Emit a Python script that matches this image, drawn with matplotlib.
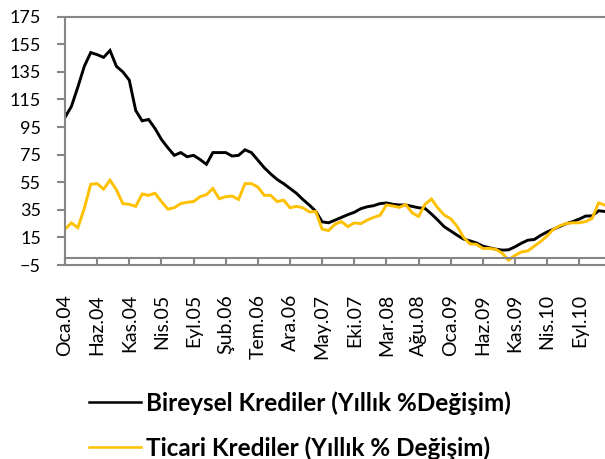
import matplotlib
matplotlib.use("Agg")
import matplotlib.pyplot as plt
from matplotlib.lines import Line2D

# Aylik yillik degisim serileri (Ocak 2004 - Ocak 2011)
bireysel = [102, 110, 124, 139, 149, 147.5, 145.5, 150.5, 139, 135,
            129, 107, 99.5, 100.5, 94, 86, 80, 74.5, 76.5, 73.5,
            74.5, 71.5, 68, 76.5, 76.5, 76.5, 74, 74.5, 78.5, 76.5,
            71, 65.5, 61, 57, 54, 50.5, 47, 42.5, 38.5, 34,
            26.3, 25.6, 27.5, 29.5, 31.5, 33.2, 35.8, 37.2, 38, 39.5,
            40, 39, 38.5, 38.5, 37.5, 36.5, 36, 32, 27.5, 22.7,
            19.7, 16.6, 13.8, 12.5, 11, 8.7, 7.5, 6.5, 5.8, 6,
            8.2, 10.8, 13, 13.5, 16.5, 19, 21, 23, 25, 26.5,
            28.3, 30.5, 30.6, 34.3, 33.8]
ticari = [21, 25.5, 22, 36, 53.5, 54, 50, 56.5, 49.5, 39.5,
          39, 37.5, 46.5, 45.5, 47, 41, 35.5, 36.5, 39.5, 40.5,
          41, 44.5, 46, 50.5, 43, 44.5, 45, 42.5, 54, 54,
          51.5, 45.5, 45.5, 41, 42, 36.5, 37.5, 36.5, 33.5, 33.8,
          21, 20, 24.5, 26.5, 22.8, 25.5, 25, 27.5, 29.5, 31,
          38.5, 37.8, 36.8, 38.8, 32.8, 30.2, 39, 42.8, 36.3, 31.2,
          28.5, 23, 15, 10.3, 10, 7, 7, 6.4, 3.6, -1.5,
          2, 4.5, 5.2, 8.7, 12, 16.2, 21, 23.5, 25.1, 25.6,
          25.6, 26.5, 28.8, 40, 38.4]
ay_etiketleri = ["Oca.04", "Haz.04", "Kas.04", "Nis.05", "Eyl.05", "Şub.06",
                 "Tem.06", "Ara.06", "May.07", "Eki.07", "Mar.08", "Ağu.08",
                 "Oca.09", "Haz.09", "Kas.09", "Nis.10", "Eyl.10"]
etiket_adimi = 5
y_ticks = list(range(-5, 176, 20))

gri = "#868686"
sari = "#FFC000"

plt.rcParams['font.family'] = ['Lato', 'DejaVu Sans']

fig = plt.figure(figsize=(6.05, 4.59), dpi=100)
ax = fig.add_axes([65 / 605, 1 - 265 / 459, 1 - 65 / 605, (265 - 16.7) / 459])

x = list(range(len(bireysel)))
ax.plot(x, bireysel, color="black", lw=2.1, solid_joinstyle="miter")
ax.plot(x, ticari, color=sari, lw=2.1, solid_joinstyle="miter")

ax.set_xlim(0, 84.0)
ax.set_ylim(-5, 175)

# yatay eksen 0 noktasinda, cerceve -5'te
ax.spines["bottom"].set_position(("data", 0))
for s in ("bottom", "left", "top"):
    ax.spines[s].set_color(gri)
    ax.spines[s].set_linewidth(1.5)
ax.spines["right"].set_visible(False)
ax.axhline(-5, color=gri, lw=1.5, clip_on=False)

ax.set_xticks([i * etiket_adimi for i in range(len(ay_etiketleri))])
ax.set_xticklabels(ay_etiketleri, rotation=90)
ax.tick_params(axis="x", direction="out", length=5.3, width=1.5, color=gri,
               pad=20.5, labelsize=14)
ax.set_yticks(y_ticks)
ax.tick_params(axis="y", direction="out", length=5.8, width=1.5, color=gri,
               pad=11.5, labelsize=13)

handles = [Line2D([], [], color="black", lw=1.8),
           Line2D([], [], color=sari, lw=1.8)]
fig.legend(handles, ["Bireysel Krediler (Yıllık %Değişim)",
                     "Ticari Krediler (Yıllık % Değişim)"],
           loc="upper left", bbox_to_anchor=(89 / 605, 1 - 391 / 459),
           frameon=False, borderpad=0, borderaxespad=0,
           handlelength=2.15, handletextpad=0.18, labelspacing=0.88,
           prop=dict(family="Lato", weight="bold", size=17.5))

fig.savefig("out.png", dpi=100)
